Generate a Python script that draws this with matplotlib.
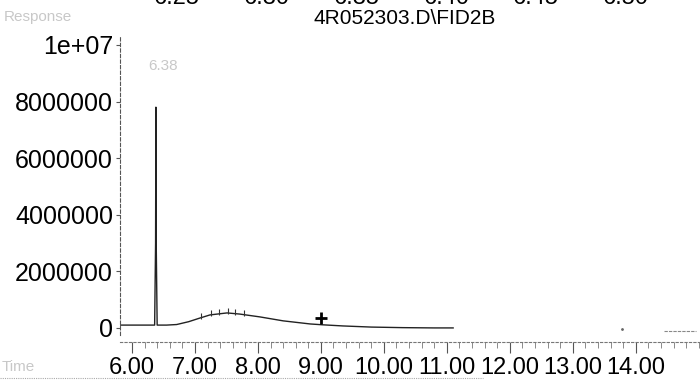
import matplotlib
matplotlib.use('Agg')
import matplotlib.pyplot as plt
import numpy as np
from matplotlib.ticker import MultipleLocator, FixedLocator, FixedFormatter
from matplotlib.lines import Line2D

plt.rcParams['font.family'] = ['Liberation Sans', 'DejaVu Sans']

# Chromatogram trace (time in min, response)
time = [5.81, 6.00, 6.20, 6.36, 6.375, 6.38, 6.385, 6.40, 6.55, 6.71, 6.90, 7.08, 7.24,
        7.51, 7.71, 8.03, 8.40, 8.83, 9.03, 9.35, 9.80, 10.30, 10.80, 11.10]
response = [1.0e5, 1.0e5, 1.0e5, 1.0e5, 3.0e6, 7.8e6, 3.0e6, 1.0e5, 1.0e5, 1.2e5, 2.2e5, 3.5e5, 4.6e5,
            5.3e5, 4.9e5, 3.9e5, 2.5e5, 1.4e5, 1.1e5, 0.7e5, 0.3e5, 0.1e5, 0.0, 0.0]

# integration hatch marks on the hump
hatch_times = [7.10, 7.25, 7.38, 7.52, 7.64, 7.78]

# stray baseline fragments at the right
tail_times = [14.45, 14.95]
tail_resp = [-1.2e5, -1.2e5]
dot_time = [13.78]
dot_resp = [-0.5e5]

# marker "+"
plus_time = [9.0]
plus_resp = [3.6e5]

peak_label = '6.38'
peak_time = 6.38

title = '4R052303.D\\FID2B'
x_ticks = [6, 7, 8, 9, 10, 11, 12, 13, 14]
x_ticklabels = ['6.00', '7.00', '8.00', '9.00', '10.00', '11.00', '12.00', '13.00', '14.00']
y_ticks = [0, 2e6, 4e6, 6e6, 8e6, 1e7]
y_ticklabels = ['0', '2000000', '4000000', '6000000', '8000000', '1e+07']
top_cut_labels = ['6.25', '6.30', '6.35', '6.40', '6.45', '6.50']

fig = plt.figure(figsize=(7, 3.81), dpi=100)
ax = fig.add_axes([120 / 700, 1 - 335 / 381, 580 / 700, 300 / 381])

ax.plot(time, response, color='#222222', lw=1.0)
ax.plot(tail_times, tail_resp, color='#888888', lw=0.8, ls=(0, (3, 1)))
ax.plot(dot_time, dot_resp, 'o', color='#666666', ms=1)
ax.plot(plus_time, plus_resp, '+', color='black', ms=9, mew=2)
ax.plot(hatch_times, np.interp(hatch_times, time, response) + 0.6e5, '|',
        color='#333333', ms=4, mew=0.8)

ax.text(peak_time + 0.12, 9.1e6, peak_label, color='#c8c8c8', fontsize=11, ha='center')

ax.set_xlim(5.81, 15.02)
ax.set_ylim(-2.5e5, 1.035e7)

for s in ['top', 'right']:
    ax.spines[s].set_visible(False)
ax.spines['left'].set_linestyle((0, (3, 2)))
ax.spines['left'].set_color('#555555')
ax.spines['left'].set_linewidth(0.8)
ax.spines['bottom'].set_position(('outward', 5))
ax.spines['bottom'].set_linestyle((0, (2, 2)))
ax.spines['bottom'].set_color('#777777')
ax.spines['bottom'].set_linewidth(0.8)

ax.xaxis.set_major_locator(FixedLocator(x_ticks))
ax.xaxis.set_major_formatter(FixedFormatter(x_ticklabels))
ax.xaxis.set_minor_locator(MultipleLocator(0.2))
ax.yaxis.set_major_locator(FixedLocator(y_ticks))
ax.yaxis.set_major_formatter(FixedFormatter(y_ticklabels))

ax.tick_params(axis='x', which='major', length=8, width=0.8, color='#555555',
               labelsize=17, pad=3)
ax.tick_params(axis='x', which='minor', length=4, width=0.6, color='#777777')
ax.tick_params(axis='y', which='major', length=3, width=0.8, color='#555555',
               labelsize=18, pad=2)

fig.text(405 / 700, 1 - 18 / 381, title, fontsize=15, ha='center', va='center')
fig.text(4 / 700, 1 - 17 / 381, 'Response', fontsize=11, color='#c8c8c8', va='center')
fig.text(2 / 700, 1 - 367 / 381, 'Time', fontsize=11, color='#c8c8c8', va='center')

for xp, lab in zip(np.linspace(177, 626, len(top_cut_labels)), top_cut_labels):
    fig.text(xp / 700, 1 - 4 / 381, lab, fontsize=17, ha='center', va='baseline')

fig.add_artist(Line2D([0, 0.69], [1 - 378 / 381] * 2, transform=fig.transFigure,
                      color='#aaaaaa', lw=0.8, ls=(0, (1, 1))))

fig.savefig('out.png', dpi=100)
